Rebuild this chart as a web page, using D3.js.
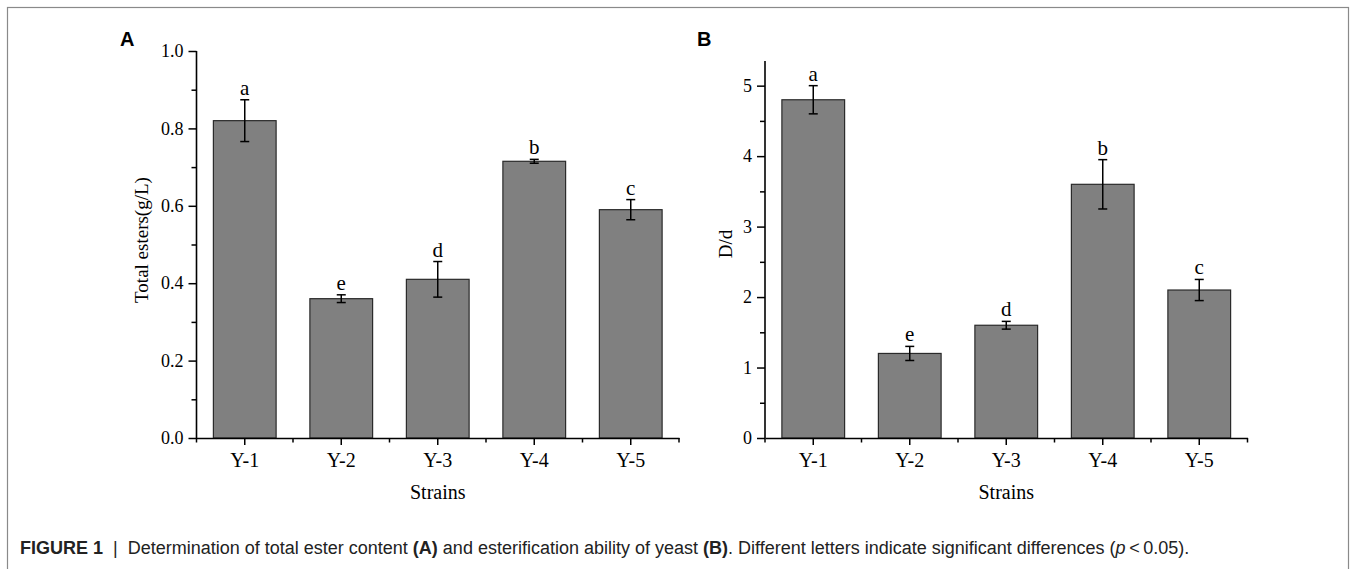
<!DOCTYPE html>
<html>
<head>
<meta charset="utf-8">
<script src="https://cdn.jsdelivr.net/npm/d3@7"></script>
<style>
  html, body { margin: 0; padding: 0; background: #fff; }
  svg { display: block; }
</style>
</head>
<body>
<svg id="chart" width="1356" height="569"></svg>
<script>
// ---- data ----
const strains = ["Y-1", "Y-2", "Y-3", "Y-4", "Y-5"];
const esters = [0.82, 0.36, 0.41, 0.715, 0.59];
const estersErr = [0.054, 0.01, 0.046, 0.005, 0.026];
const estersLetters = ["a", "e", "d", "b", "c"];
const esterTicks = [0.0, 0.2, 0.4, 0.6, 0.8, 1.0];
const esterMinorTicks = [0.1, 0.3, 0.5, 0.7, 0.9];

const ratio = [4.8, 1.2, 1.6, 3.6, 2.1];
const ratioErr = [0.2, 0.1, 0.055, 0.35, 0.15];
const ratioLetters = ["a", "e", "d", "b", "c"];
const ratioTicks = [0, 1, 2, 3, 4, 5];
const ratioMinorTicks = [0.5, 1.5, 2.5, 3.5, 4.5];

const svg = d3.select("#chart");
const serif = "'Liberation Serif', 'Times New Roman', serif";

// outer frame
svg.append("rect")
  .attr("x", 7.5).attr("y", 7.5)
  .attr("width", 1341).attr("height", 600)
  .attr("fill", "none").attr("stroke", "#8a8a8a").attr("stroke-width", 1.2);

function panel(opts) {
  const g = svg.append("g");
  const x = d3.scaleBand().domain(strains).range(opts.xRange)
    .paddingInner(0.35).paddingOuter(0.175);
  const y = d3.scaleLinear().domain(opts.yDomain).range([438, opts.yTop]);

  // bars
  g.selectAll("rect.bar").data(strains).join("rect")
    .attr("class", "bar")
    .attr("x", d => x(d))
    .attr("width", x.bandwidth())
    .attr("y", (d, i) => y(opts.values[i]))
    .attr("height", (d, i) => y(0) - y(opts.values[i]))
    .attr("fill", "#808080")
    .attr("stroke", "#2a2a2a")
    .attr("stroke-width", 1.2);

  // error bars
  const cx = d => x(d) + x.bandwidth() / 2;
  const eg = g.append("g").attr("stroke", "#000").attr("stroke-width", 1.5);
  strains.forEach((d, i) => {
    const v = opts.values[i], e = opts.errs[i];
    eg.append("line").attr("x1", cx(d)).attr("x2", cx(d))
      .attr("y1", y(v + e)).attr("y2", y(v - e));
    [v + e, v - e].forEach(t => {
      eg.append("line").attr("x1", cx(d) - 4.5).attr("x2", cx(d) + 4.5)
        .attr("y1", y(t)).attr("y2", y(t));
    });
  });

  // significance letters
  g.selectAll("text.sig").data(strains).join("text")
    .attr("class", "sig")
    .attr("x", d => cx(d))
    .attr("y", (d, i) => y(opts.values[i] + opts.errs[i]) - 5)
    .attr("text-anchor", "middle")
    .attr("font-family", serif).attr("font-size", 21)
    .attr("fill", "#000")
    .text((d, i) => opts.letters[i]);

  // y axis
  const yAxis = d3.axisLeft(y).tickValues(opts.ticks).tickFormat(opts.fmt)
    .tickSize(8).tickSizeOuter(0).tickPadding(5);
  const ya = g.append("g").attr("transform", `translate(${opts.xRange[0]},0)`).call(yAxis);
  ya.select(".domain").attr("stroke", "#000").attr("stroke-width", 1.6)
    .attr("d", `M0,${y(0)}V${opts.yTop}`);
  ya.selectAll(".tick line").attr("stroke", "#000").attr("stroke-width", 1.5);
  ya.selectAll(".tick text").attr("font-family", serif).attr("font-size", 18).attr("fill", "#000");
  const yMinor = d3.axisLeft(y).tickValues(opts.minor).tickFormat("").tickSize(5).tickSizeOuter(0);
  const ym = g.append("g").attr("transform", `translate(${opts.xRange[0]},0)`).call(yMinor);
  ym.select(".domain").remove();
  ym.selectAll(".tick line").attr("stroke", "#000").attr("stroke-width", 1.5);

  // x axis
  const xAxis = d3.axisBottom(x).tickSize(7).tickSizeOuter(0).tickPadding(8);
  const xa = g.append("g").attr("transform", `translate(0,${y(0)})`).call(xAxis);
  xa.select(".domain").attr("stroke", "#000").attr("stroke-width", 1.6);
  xa.selectAll(".tick line").attr("stroke", "#000").attr("stroke-width", 1.5);
  xa.selectAll(".tick text").attr("font-family", serif).attr("font-size", 20).attr("fill", "#000");
  // boundary minor ticks
  const step = x.step();
  const bounds = strains.map(d => x(d) - step * 0.175).concat([opts.xRange[1]]);
  g.append("g").selectAll("line").data(bounds).join("line")
    .attr("x1", d => d).attr("x2", d => d)
    .attr("y1", y(0)).attr("y2", y(0) + 4.5)
    .attr("stroke", "#000").attr("stroke-width", 1.5);

  // axis titles
  const midX = (opts.xRange[0] + opts.xRange[1]) / 2;
  g.append("text").attr("x", midX).attr("y", 499)
    .attr("text-anchor", "middle").attr("font-family", serif).attr("font-size", 20)
    .text("Strains");
  g.append("text")
    .attr("transform", `translate(${opts.titleX},${opts.titleY}) rotate(-90)`)
    .attr("text-anchor", "middle").attr("font-family", serif).attr("font-size", 19)
    .text(opts.yTitle);

  // panel letter
  g.append("text").attr("x", opts.letterX).attr("y", 46)
    .attr("font-family", "'Liberation Sans', Arial, sans-serif").attr("font-weight", "bold")
    .attr("font-size", 20).text(opts.panel);
}

panel({
  xRange: [196.5, 679], yDomain: [0, 1], yTop: 51,
  values: esters, errs: estersErr, letters: estersLetters,
  ticks: esterTicks, minor: esterMinorTicks, fmt: d3.format(".1f"),
  yTitle: "Total esters(g/L)", titleX: 148, titleY: 240,
  panel: "A", letterX: 120
});

panel({
  xRange: [765, 1247.5], yDomain: [0, 5.35], yTop: 61,
  values: ratio, errs: ratioErr, letters: ratioLetters,
  ticks: ratioTicks, minor: ratioMinorTicks, fmt: d3.format("d"),
  yTitle: "D/d", titleX: 732, titleY: 244,
  panel: "B", letterX: 697
});

// caption
const cap = svg.append("text").attr("x", 20).attr("y", 554)
  .attr("font-family", "'Liberation Sans Narrow', 'Arial Narrow', 'Liberation Sans', Arial, sans-serif")
  .attr("font-size", 18).attr("fill", "#222");
const parts = [
  ["FIGURE 1", "bold", "normal"],
  ["  |  ", "normal", "normal"],
  ["Determination of total ester content ", "normal", "normal"],
  ["(A)", "bold", "normal"],
  [" and esterification ability of yeast ", "normal", "normal"],
  ["(B)", "bold", "normal"],
  [". Different letters indicate significant differences (", "normal", "normal"],
  ["p", "normal", "italic"],
  ["\u2009<\u20090.05).", "normal", "normal"]
];
parts.forEach(p => {
  cap.append("tspan").attr("font-weight", p[1]).attr("font-style", p[2])
    .attr("xml:space", "preserve").style("white-space", "pre").text(p[0]);
});
</script>
</body>
</html>
